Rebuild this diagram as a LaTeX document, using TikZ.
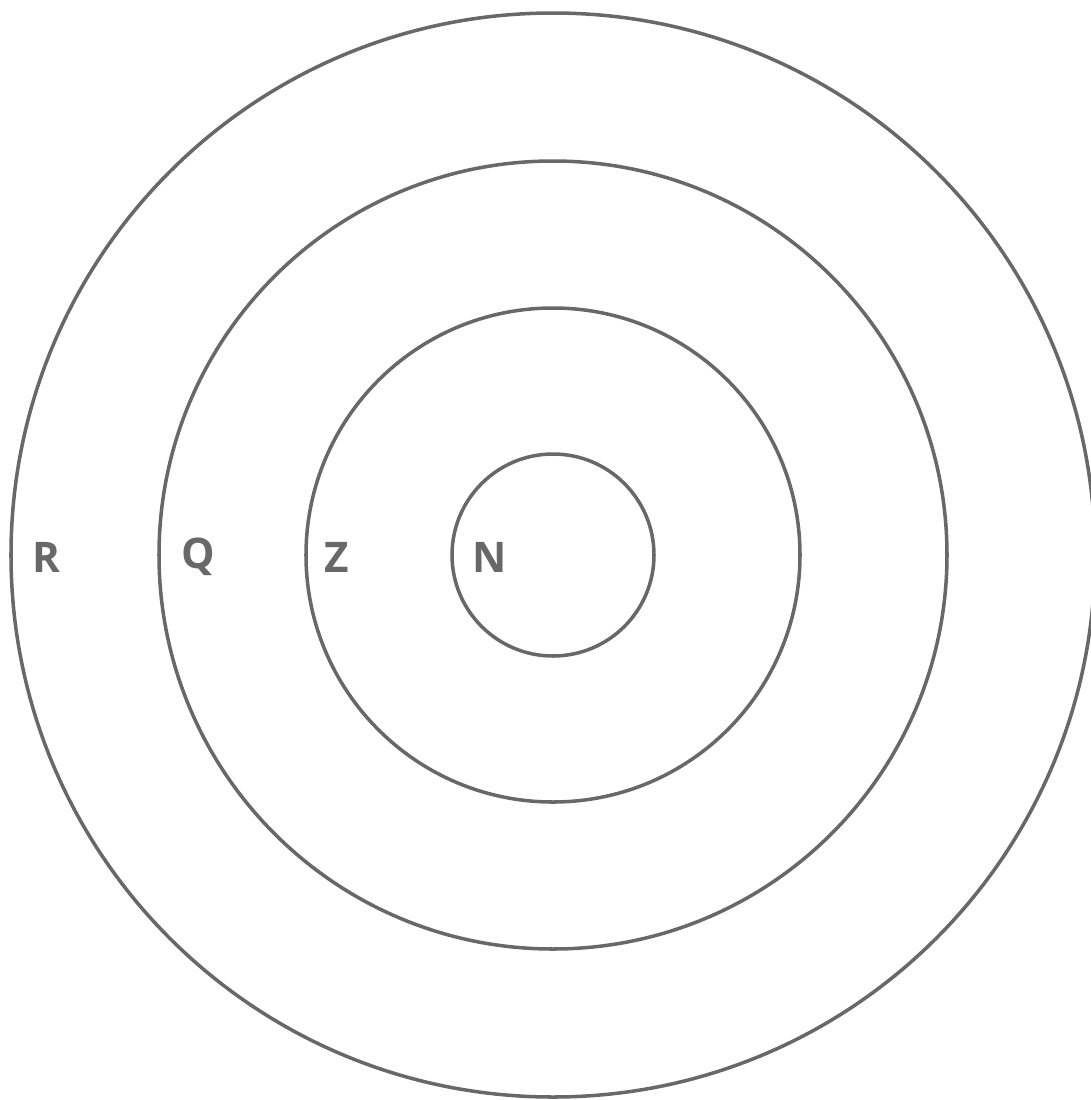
\documentclass[tikz,border=0pt]{standalone}
\usepackage{fontspec}
\setmainfont{Open Sans}
\definecolor{ringgray}{HTML}{686868}
\tikzset{
	ring/.style={line width=2pt,color=ringgray},
	lbl/.style={font=\fontsize{24}{28}\selectfont\bfseries,text=ringgray,inner sep=0pt}
}
\begin{document}
\begin{tikzpicture}[x=0.02cm,y=-0.02cm]
	\useasboundingbox (0,0) rectangle (1091,1100);
	
	%center
	\coordinate (c) at (553,555);
	
	%rings
	\draw[ring] (c) circle (101);
	\draw[ring] (c) circle (247);
	\draw[ring] (c) circle (394);
	\draw[ring] (c) circle (542);
	
	%labels
	\node[lbl] at (46,557) (r) {R};
	\node[lbl] at (198,557) (q) {Q};
	\node[lbl] at (337,557) (z) {Z};
	\node[lbl] at (490,557) (n) {N};

\end{tikzpicture}
\end{document}
